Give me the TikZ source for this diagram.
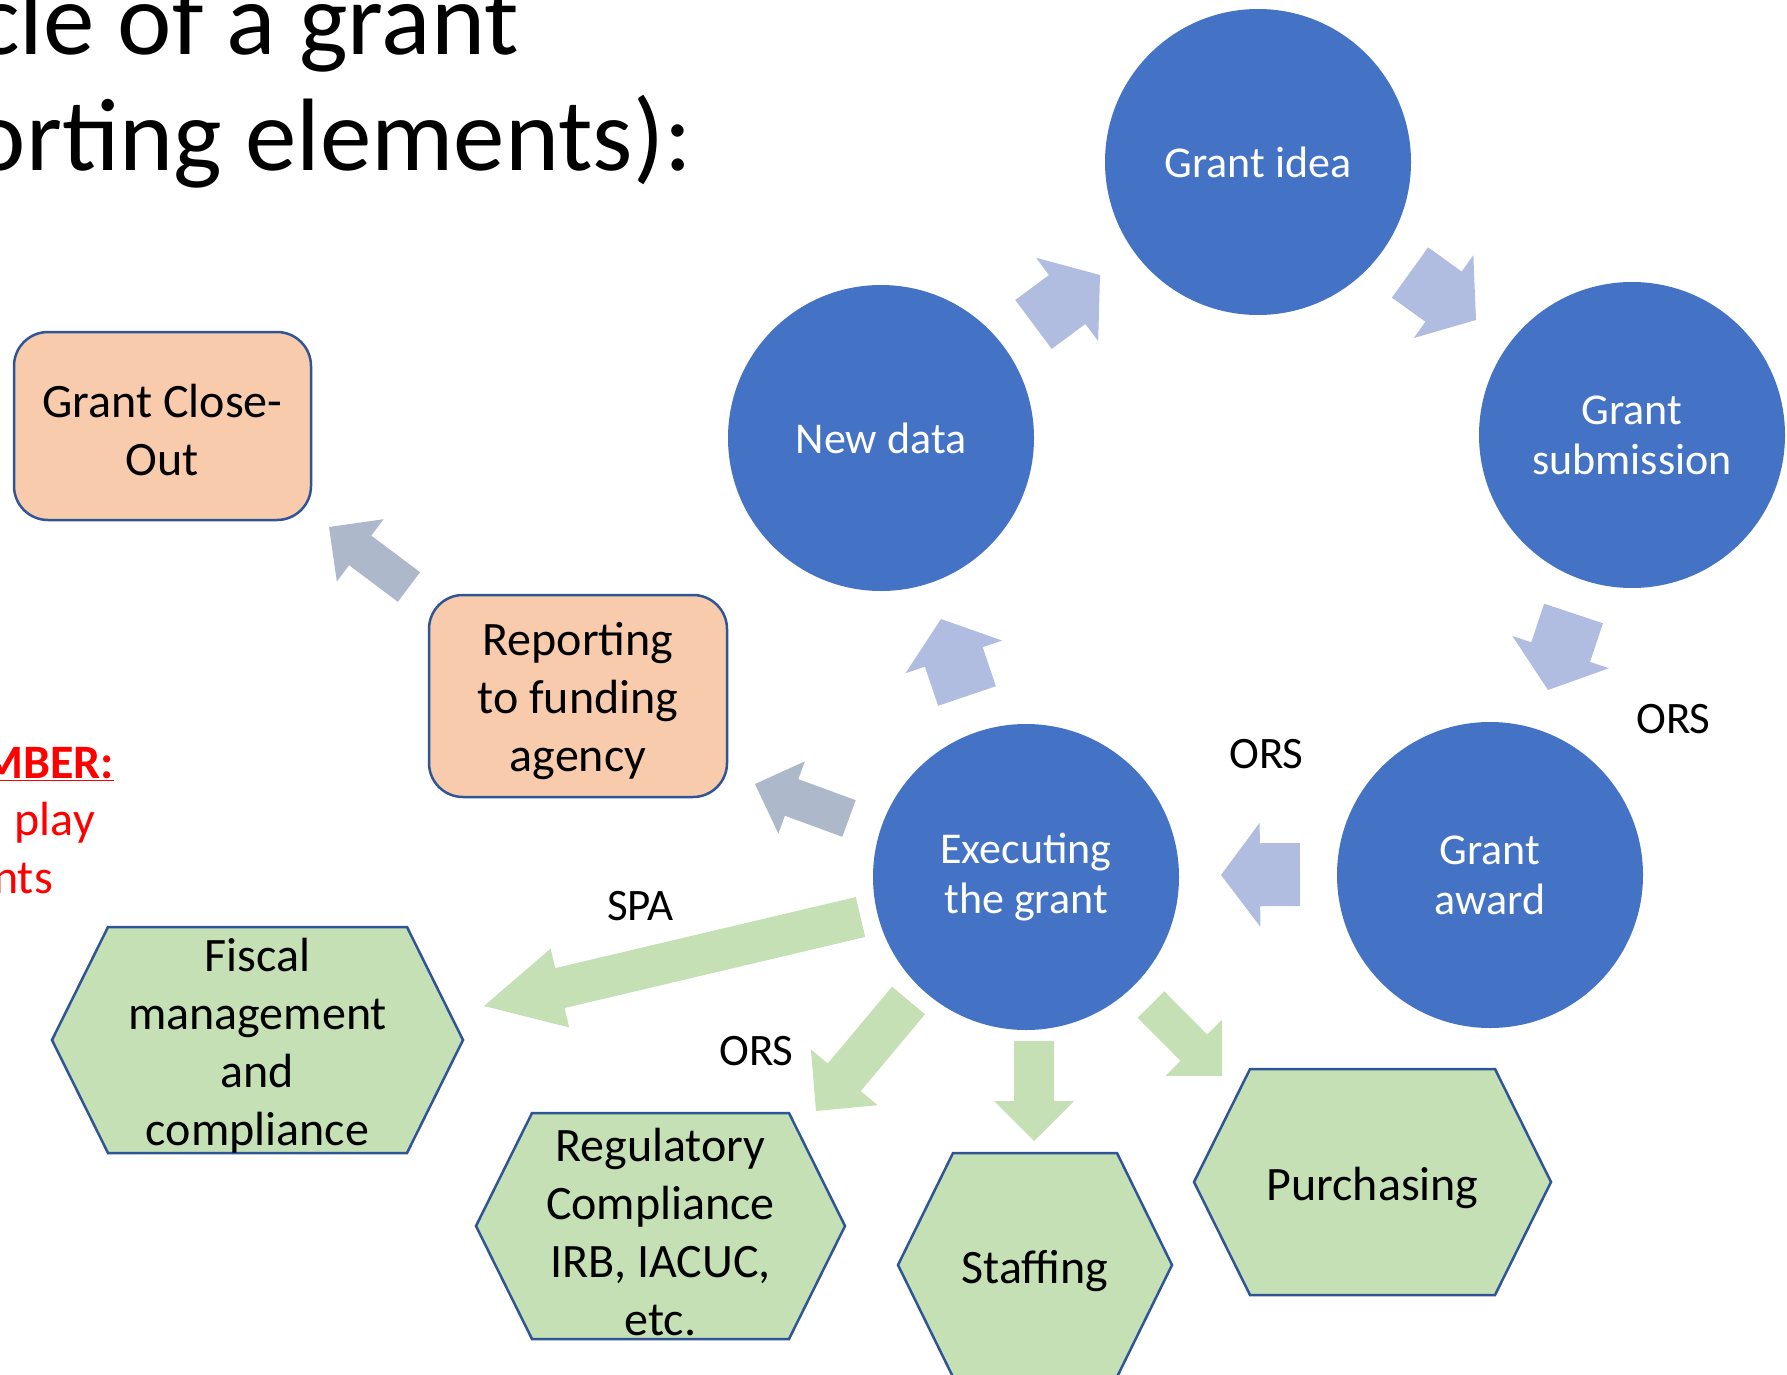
\documentclass[tikz,border=0pt]{standalone}
\usepackage{fontspec}
\setmainfont{Carlito}
\usetikzlibrary{calc}
\definecolor{circblue}{HTML}{4472C4}
\definecolor{arrblue}{RGB}{176,189,224}
\definecolor{arrgrey}{RGB}{173,185,202}
\definecolor{hexgreen}{HTML}{C5E0B4}
\definecolor{boxorange}{HTML}{F8CBAD}
\definecolor{edgeblue}{HTML}{2F5597}
\newcommand{\blockarrow}[6]{%
  \fill[#1] ($(#2)!#4!90:(#3)$) -- ($(#3)!#6!(#2)!#4!90:(#3)$) -- ($(#3)!#6!(#2)!#5!90:(#3)$)
    -- (#3) -- ($(#3)!#6!(#2)!#5!-90:(#3)$) -- ($(#3)!#6!(#2)!#4!-90:(#3)$) -- ($(#2)!#4!-90:(#3)$) -- cycle;}
\newcommand{\hexnode}[6]{%
  \coordinate (#1c) at #2;
  \draw[hexshape] ($(#1c)+(-#3,0)$) -- ++(#5,-#4) -- ++({2*#3-2*#5},0) -- ++(#5,#4)
    -- ++(-#5,#4) -- ++({-2*#3+2*#5},0) -- cycle;
  \node[hextext] (#1) at ($(#1c)+(0,6)$) {#6};}
\begin{document}
\begin{tikzpicture}[x=1pt,y=-1pt,
  circ/.style={circle, minimum size=306pt, inner sep=0pt, fill=circblue, text=white, align=center,
    font=\fontsize{44}{50}\selectfont},
  obox/.style={rectangle, rounded corners=34pt, draw=edgeblue, line width=2.5pt, fill=boxorange},
  btext/.style={align=center, inner sep=0pt, font=\fontsize{48}{58}\selectfont},
  hexshape/.style={draw=edgeblue, line width=2.5pt, fill=hexgreen, line join=miter},
  hextext/.style={align=center, inner sep=0pt, font=\fontsize{48}{58}\selectfont},
  lbl/.style={anchor=base west, inner sep=0pt, font=\fontsize{45}{54}\selectfont},
  ttl/.style={anchor=base east, inner sep=0pt, font=\fontsize{103}{116}\selectfont},
  red/.style={anchor=base east, inner sep=0pt, text=red, font=\fontsize{48}{58}\selectfont},
  bluearr/.style={arrblue},
  greyarr/.style={arrgrey},
  greenarr/.style={hexgreen}]
\useasboundingbox (0,0) rectangle (1787,1375);

% title
\node[ttl] (t1) at (519,55) {cle of a grant};
\node[ttl] (t2) at (692,171) {orting elements):};

% red note
\node[red] (r1) at (114,778) {\underline{\textbf{MBER:}}};
\node[red] (r2) at (95,835) {play};
\node[red] (r3) at (53,893) {nts};

% circles
\node[circ] (gi) at (1258,162) {Grant idea};
\node[circ] (gs) at (1632,435) {Grant\\submission};
\node[circ] (nd) at (881,438) {New data};
\node[circ] (ex) at (1026,877) {Executing\\the grant};
\node[circ] (ga) at (1490,875) {Grant\\award};

% orange boxes
\node[obox, minimum width=297pt, minimum height=188pt] (co) at (162.5,426) {};
\node[btext] (cot) at (162.5,430) {Grant Close-\\Out};
\node[obox, minimum width=298pt, minimum height=202pt] (rep) at (578,696) {};
\node[btext] (rept) at (578,701) {Reporting\\to funding\\agency};

% hexagons
\hexnode{fis}{(257.5,1040)}{205.5}{113}{56}{Fiscal\\management\\and\\compliance}
\hexnode{reg}{(660.5,1226)}{184.5}{113}{56}{Regulatory\\Compliance\\IRB, IACUC,\\etc.}
\hexnode{stf}{(1035,1265)}{137}{112}{55}{Staffing}
\hexnode{pur}{(1372.5,1182)}{178.5}{113}{56}{Purchasing}

% arrow end points
\coordinate (a1s) at (1033.5,324.5); \coordinate (a1e) at (1100,275);
\coordinate (a2s) at (1410,272.5);   \coordinate (a2e) at (1476,320);
\coordinate (a3s) at (1573.5,613.5); \coordinate (a3e) at (1548,690);
\coordinate (a4s) at (1300,874.5);   \coordinate (a4e) at (1221,875);
\coordinate (a5s) at (967,696);      \coordinate (a5e) at (941,619);
\coordinate (a6s) at (849,818.5);    \coordinate (a6e) at (755,784);
\coordinate (a7s) at (409,587);      \coordinate (a7e) at (329,527);
\coordinate (a8s) at (860.5,917);    \coordinate (a8e) at (484,1006);
\coordinate (a9s) at (908.5,1000.5); \coordinate (a9e) at (816,1111);
\coordinate (a10s) at (1034,1041);   \coordinate (a10e) at (1034,1141);
\coordinate (a11s) at (1151,1004.5); \coordinate (a11e) at (1222,1076);

\blockarrow{bluearr}{a1s}{a1e}{30.5pt}{52pt}{41pt}
\blockarrow{bluearr}{a2s}{a2e}{31pt}{51pt}{40pt}
\blockarrow{bluearr}{a3s}{a3e}{31pt}{51pt}{40pt}
\blockarrow{bluearr}{a4s}{a4e}{31.5pt}{52pt}{39pt}
\blockarrow{bluearr}{a5s}{a5e}{30.5pt}{51pt}{40pt}
\blockarrow{greyarr}{a6s}{a6e}{19.5pt}{38.5pt}{39pt}
\blockarrow{greyarr}{a7s}{a7e}{18.5pt}{39pt}{39pt}
\blockarrow{greenarr}{a8s}{a8e}{20.5pt}{40.5pt}{78pt}
\blockarrow{greenarr}{a9s}{a9e}{21.5pt}{43.5pt}{44pt}
\blockarrow{greenarr}{a10s}{a10e}{20pt}{40pt}{40pt}
\blockarrow{greenarr}{a11s}{a11e}{18.75pt}{40pt}{40pt}

% labels
\node[lbl] (l1) at (1636,733) {ORS};
\node[lbl] (l2) at (1229,768) {ORS};
\node[lbl] (l3) at (607,920) {SPA};
\node[lbl] (l4) at (719,1065) {ORS};
\end{tikzpicture}
\end{document}
